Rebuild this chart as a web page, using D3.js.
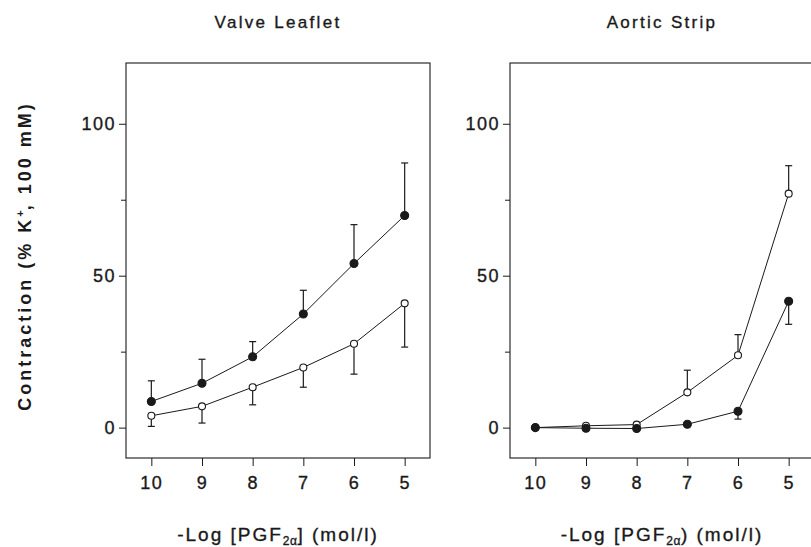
<!DOCTYPE html>
<html>
<head>
<meta charset="utf-8">
<script src="https://cdn.jsdelivr.net/npm/d3@7"></script>
<style>
  html, body { margin:0; padding:0; background:#fff; }
  svg { display:block; font-family:"Liberation Sans", Arial, sans-serif; }
</style>
</head>
<body>
<div id="chart"></div>
<script>
// -Log [PGF2a] Dosis-Wirkung, zwei Präparate
const doses      = [10, 9, 8, 7, 6, 5];
const yMajor     = [0, 50, 100];
const yMinor     = [25, 75];

// Valve Leaflet
const valveFilled    = [8.6, 14.6, 23.3, 37.4, 54.0, 69.8];
const valveFilledErr = [6.8, 7.9, 5.0, 7.8, 12.8, 17.3];   // nach oben
const valveOpen      = [3.9, 7.0, 13.3, 19.8, 27.6, 40.9];
const valveOpenErr   = [3.5, 5.5, 5.8, 6.5, 10.0, 14.4];   // nach unten

// Aortic Strip
const aortaOpen      = [0, 0.6, 1.0, 11.6, 23.8, 77.0];
const aortaOpenErr   = [0, 0, 0, 7.3, 6.8, 9.2];           // nach oben
const aortaFilled    = [0, -0.2, -0.3, 1.1, 5.4, 41.6];
const aortaFilledErr = [0, 0, 0, 0, 2.6, 7.6];             // nach unten

const panels = [
  { title:'Valve Leaflet', x0:126, x1:430, xlabClose:']',
    series:[
      { v:valveOpen,   e:valveOpenErr,   dir:-1, filled:false },
      { v:valveFilled, e:valveFilledErr, dir: 1, filled:true  }
    ] },
  { title:'Aortic Strip', x0:510, x1:814, xlabClose:')',
    series:[
      { v:aortaOpen,   e:aortaOpenErr,   dir: 1, filled:false },
      { v:aortaFilled, e:aortaFilledErr, dir:-1, filled:true  }
    ] }
];

const W = 811, H = 547, plotTop = 63, plotBottom = 458;
const ink = '#1a1a1a';

const svg = d3.select('#chart').append('svg')
  .attr('width', W).attr('height', H);

const y = d3.scaleLinear().domain([-10, 120]).range([plotBottom, plotTop]);

panels.forEach(p => {
  const x = d3.scaleLinear().domain([10.5, 4.5]).range([p.x0, p.x1]);
  const g = svg.append('g');

  // Rahmen
  g.append('rect')
    .attr('x', p.x0).attr('y', plotTop)
    .attr('width', p.x1 - p.x0).attr('height', plotBottom - plotTop)
    .attr('fill', 'none').attr('stroke', ink).attr('stroke-width', 1.1);

  // y-Achse
  const ya = g.append('g').attr('transform', `translate(${p.x0},0)`)
    .call(d3.axisLeft(y).tickValues(yMajor).tickSize(7).tickPadding(3));
  ya.append('g').call(d3.axisLeft(y).tickValues(yMinor).tickSize(5).tickFormat(''));

  // x-Achse
  g.append('g').attr('transform', `translate(0,${plotBottom})`)
    .call(d3.axisBottom(x).tickValues(doses).tickFormat(d3.format('d'))
      .tickSize(8).tickPadding(10));

  g.selectAll('.domain').remove();
  g.selectAll('.tick line').attr('stroke', ink);
  g.selectAll('.tick text')
    .attr('fill', ink).attr('font-size', 18).attr('letter-spacing', 1.5)
    .attr('stroke', ink).attr('stroke-width', 0.35)
    .attr('font-family', '"Liberation Sans", Arial, sans-serif');

  // Titel
  g.append('text')
    .attr('x', (p.x0 + p.x1) / 2).attr('y', 28)
    .attr('text-anchor', 'middle')
    .attr('font-size', 17).attr('letter-spacing', 2.3).attr('fill', ink)
    .attr('stroke', ink).attr('stroke-width', 0.35)
    .text(p.title);

  // x-Beschriftung
  const xl = g.append('text')
    .attr('x', (p.x0 + p.x1) / 2).attr('y', 541)
    .attr('text-anchor', 'middle')
    .attr('font-size', 19).attr('letter-spacing', 2).attr('fill', ink)
    .attr('stroke', ink).attr('stroke-width', 0.35);
  xl.append('tspan').text('-Log [PGF');
  xl.append('tspan').attr('font-size', 12).attr('letter-spacing', 0.5).attr('dy', 4).text('2α');
  xl.append('tspan').attr('dy', -4).attr('letter-spacing', 2).text(p.xlabClose + ' (mol/l)');

  const line = d3.line().x((d, i) => x(doses[i])).y(d => y(d));

  p.series.forEach(s => {
    // Fehlerbalken
    const eb = g.append('g').attr('stroke', ink).attr('stroke-width', 1.2);
    s.v.forEach((v, i) => {
      if (!s.e[i]) return;
      const xc = x(doses[i]), y1 = y(v), y2 = y(v + s.dir * s.e[i]);
      eb.append('line').attr('x1', xc).attr('x2', xc).attr('y1', y1).attr('y2', y2);
      eb.append('line').attr('x1', xc - 3.5).attr('x2', xc + 3.5).attr('y1', y2).attr('y2', y2);
    });

    g.append('path').datum(s.v)
      .attr('d', line)
      .attr('fill', 'none').attr('stroke', ink).attr('stroke-width', 1);

    g.selectAll(null).data(s.v).enter().append('circle')
      .attr('cx', (d, i) => x(doses[i]))
      .attr('cy', d => y(d))
      .attr('r', s.filled ? 4 : 3.5)
      .attr('fill', s.filled ? ink : '#fff')
      .attr('stroke', ink).attr('stroke-width', 1.1);
  });
});

// gemeinsame y-Beschriftung
const yl = svg.append('text')
  .attr('transform', 'translate(31,256) rotate(-90)')
  .attr('text-anchor', 'middle')
  .attr('font-size', 18).attr('font-weight', 'bold')
  .attr('letter-spacing', 3).attr('fill', ink);
yl.append('tspan').text('Contraction (% K');
yl.append('tspan').attr('font-size', 11).attr('letter-spacing', 0).attr('dy', -7).text('+');
yl.append('tspan').attr('dy', 7).attr('letter-spacing', 3).text(', 100 mM)');
</script>
</body>
</html>
